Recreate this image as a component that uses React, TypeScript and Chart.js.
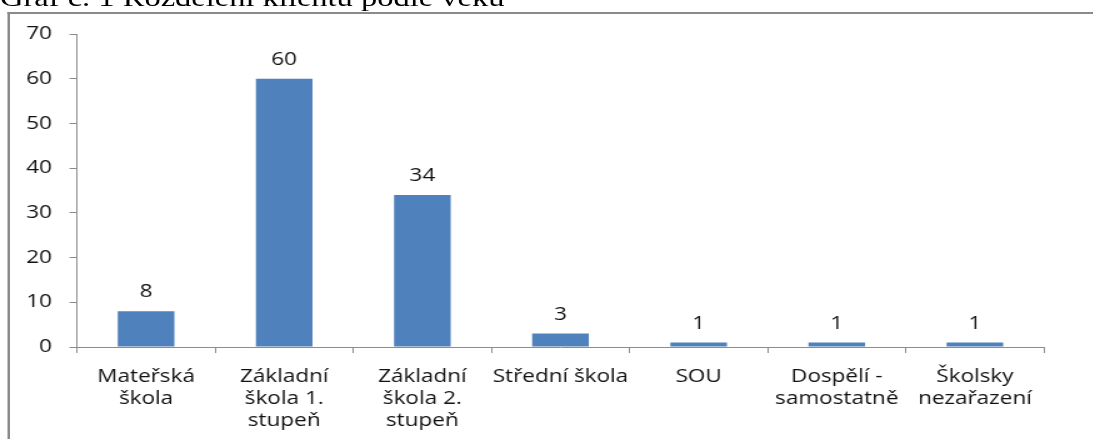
import { useEffect, useRef } from "react";
import { Chart, registerables } from "chart.js";

Chart.register(...registerables);

// ---- data ----
const categories: (string | string[])[] = [
  ["Mateřská", "škola"],
  ["Základní", "škola 1.", "stupeň"],
  ["Základní", "škola 2.", "stupeň"],
  "Střední škola",
  "SOU",
  ["Dospělí -", "samostatně"],
  ["Školsky", "nezařazení"],
];
const values: number[] = [8, 60, 34, 3, 1, 1, 1];
const yMin = 0;
const yMax = 70;
const yStep = 10;
const titleText = "Graf č. 1 Rozdělení klientů podle věku";

// ---- styling ----
const STRETCH = 1.25;
const W = 1093;
const H = 439;
const CW = Math.round(W / STRETCH);
const FONT = "'Open Sans', 'DejaVu Sans', sans-serif";
const FONT_SIZE = 18;
const TEXT = "#111111";
const AXIS = "#8c8c8c";
const BAR = "#4F81BD";
const AREA_LEFT = 77 / STRETCH;
const AREA_RIGHT = 1044 / STRETCH;
const AREA_TOP = 34;
const AREA_BOTTOM = 347;

export default function App() {
  const ref = useRef<HTMLCanvasElement>(null);

  useEffect(() => {
    const canvas = ref.current;
    if (!canvas) return;
    const dataLabels = {
      id: "dataLabels",
      afterDatasetsDraw(chart: any) {
        const c = chart.ctx;
        const meta = chart.getDatasetMeta(0);
        c.save();
        c.font = `${FONT_SIZE}px ${FONT}`;
        c.fillStyle = TEXT;
        c.textAlign = "center";
        c.textBaseline = "alphabetic";
        meta.data.forEach((el: any, i: number) => {
          c.fillText(String(values[i]), el.x, el.y - 14);
        });
        c.restore();
      },
    };
    const chart = new Chart(canvas, {
      type: "bar",
      data: {
        labels: categories,
        datasets: [
          {
            data: values,
            backgroundColor: BAR,
            borderWidth: 0,
            categoryPercentage: 1,
            barPercentage: 0.41,
          },
        ],
      },
      options: {
        animation: false,
        responsive: false,
        devicePixelRatio: 1,
        layout: {
          padding: { top: AREA_TOP, right: CW - AREA_RIGHT, bottom: 0, left: 0 },
        },
        plugins: {
          legend: { display: false },
          tooltip: { enabled: false },
          title: { display: false },
        },
        scales: {
          x: {
            offset: true,
            grid: {
              offset: true,
              drawOnChartArea: false,
              drawTicks: true,
              tickLength: 6,
              color: AXIS,
            },
            border: { display: true, color: AXIS, width: 1 },
            ticks: {
              color: TEXT,
              font: { family: FONT, size: FONT_SIZE, lineHeight: 1.222 },
              padding: 13,
              maxRotation: 0,
              minRotation: 0,
              autoSkip: false,
            },
            afterFit: (s: any) => {
              s.height = H - AREA_BOTTOM;
            },
          },
          y: {
            min: yMin,
            max: yMax,
            grid: {
              drawOnChartArea: false,
              drawTicks: true,
              tickLength: 6,
              color: AXIS,
            },
            border: { display: true, color: AXIS, width: 1 },
            ticks: {
              stepSize: yStep,
              color: TEXT,
              font: { family: FONT, size: FONT_SIZE },
              padding: 14,
            },
            afterFit: (s: any) => {
              s.width = AREA_LEFT;
            },
          },
        },
      },
      plugins: [dataLabels],
    });
    return () => chart.destroy();
  }, []);

  return (
    <div
      style={{
        position: "fixed",
        left: 0,
        top: 0,
        width: W,
        height: H,
        overflow: "hidden",
        background: "#fff",
      }}
    >
      <div
        style={{
          position: "absolute",
          left: 0,
          top: 0,
          width: W / STRETCH,
          height: H,
          transform: `scaleX(${STRETCH})`,
          transformOrigin: "0 0",
        }}
      >
        <div
          style={{
            position: "absolute",
            left: 0,
            top: -15,
            fontFamily: "'Liberation Serif', 'Times New Roman', serif",
            fontSize: 26,
            lineHeight: "26px",
            whiteSpace: "nowrap",
            color: "#000",
          }}
        >
          {titleText}
        </div>
        <div
          style={{
            position: "absolute",
            left: 5.6,
            top: 12,
            width: 2000,
            height: 1000,
            borderTop: "2px solid #8a8a8a",
            borderLeft: "2px solid #8a8a8a",
          }}
        />
        <canvas
          ref={ref}
          width={CW}
          height={H}
          style={{ position: "absolute", left: 0, top: 0, width: CW, height: H }}
        />
      </div>
    </div>
  );
}
